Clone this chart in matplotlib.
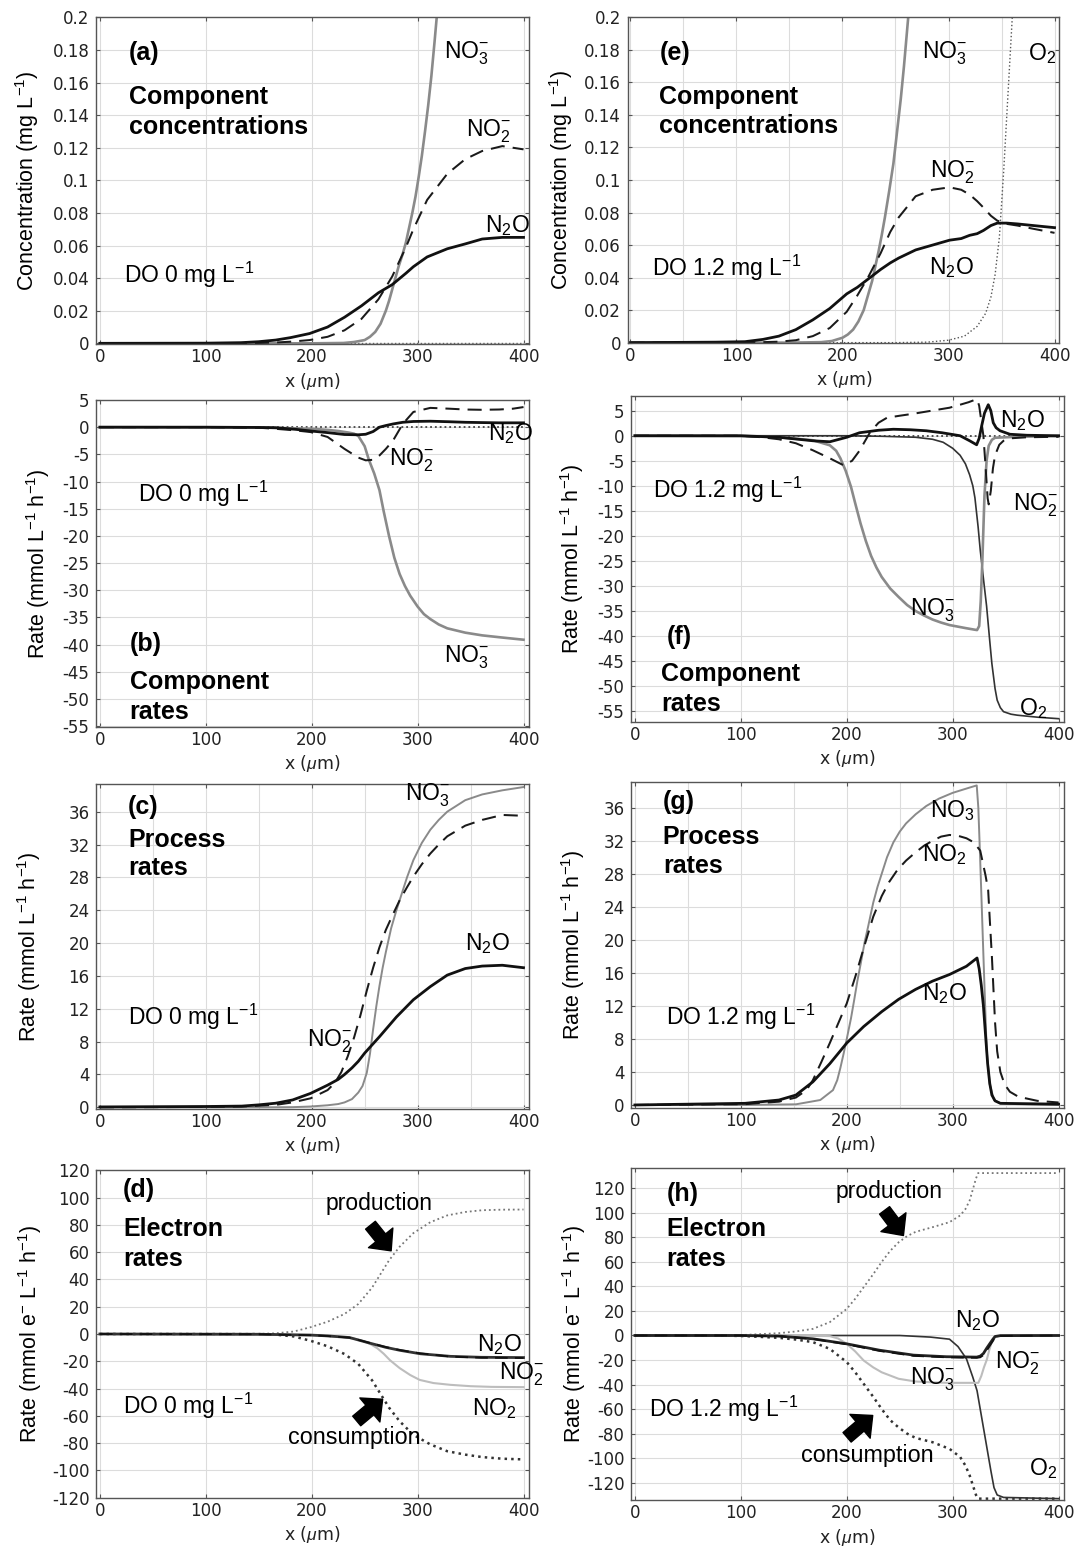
import matplotlib
matplotlib.use('Agg')
import matplotlib.pyplot as plt
from matplotlib.ticker import FuncFormatter

plt.rcParams['font.family'] = ['Liberation Sans', 'DejaVu Sans']
plt.rcParams['mathtext.fontset'] = 'custom'
plt.rcParams['mathtext.rm'] = 'Liberation Sans'
plt.rcParams['mathtext.it'] = 'Liberation Sans:italic'
plt.rcParams['mathtext.bf'] = 'Liberation Sans:bold'
plt.rcParams['axes.unicode_minus'] = False

# ---------------- data ----------------
x_ticks = [0, 100, 200, 300, 400]
x_minor = [50, 150, 250, 350]
conc_ticks = [0, 0.02, 0.04, 0.06, 0.08, 0.1, 0.12, 0.14, 0.16, 0.18, 0.2]
comp_rate_ticks = [-55, -50, -45, -40, -35, -30, -25, -20, -15, -10, -5, 0, 5]
proc_rate_ticks = [0, 4, 8, 12, 16, 20, 24, 28, 32, 36]
elec_rate_ticks = [-120, -100, -80, -60, -40, -20, 0, 20, 40, 60, 80, 100, 120]

# (a) concentrations, DO 0
a_x_no3 = [0, 200, 230, 240, 250, 255, 260, 265, 270, 273, 276, 279, 282, 286, 289, 292, 295, 298, 301, 304, 307, 310, 313, 316, 319, 322]
a_no3 = [0, 0, 0.0002, 0.0008, 0.002, 0.004, 0.007, 0.012, 0.02, 0.026, 0.033, 0.040, 0.047, 0.055, 0.062, 0.071, 0.080, 0.090, 0.102, 0.115, 0.130, 0.146, 0.164, 0.185, 0.207, 0.23]
a_x = [0, 100, 133, 150, 166, 180, 198, 215, 231, 247, 263, 276, 289, 296, 309, 328, 345, 361, 380, 400]
a_no2 = [0, 0, 0, 0.0002, 0.0005, 0.001, 0.002, 0.004, 0.008, 0.015, 0.027, 0.041, 0.059, 0.070, 0.088, 0.104, 0.113, 0.118, 0.121, 0.119]
a_n2o = [0, 0.0001, 0.0004, 0.001, 0.002, 0.0035, 0.006, 0.010, 0.016, 0.023, 0.031, 0.036, 0.043, 0.047, 0.053, 0.058, 0.061, 0.064, 0.065, 0.065]
a_x_o2 = [0, 400]
a_o2 = [0, 0]

# (e) concentrations, DO 1.2
e_x_no3 = [0, 150, 180, 190, 200, 205, 210, 215, 220, 224, 228, 231, 234, 237, 240, 244, 248, 251, 255, 258, 262, 266]
e_no3 = [0, 0, 0.0003, 0.001, 0.003, 0.005, 0.008, 0.013, 0.02, 0.029, 0.038, 0.047, 0.056, 0.066, 0.077, 0.093, 0.11, 0.127, 0.15, 0.17, 0.2, 0.235]
e_x = [0, 80, 108, 125, 140, 156, 172, 188, 204, 214, 224, 236, 245, 253, 269, 285, 301, 312, 320, 327, 333, 340, 346, 355, 365, 380, 400]
e_no2 = [0, 0, 0.0001, 0.0003, 0.0006, 0.0015, 0.004, 0.009, 0.019, 0.029, 0.040, 0.055, 0.068, 0.077, 0.090, 0.094, 0.0955, 0.094, 0.091, 0.087, 0.083, 0.078, 0.075, 0.073, 0.072, 0.070, 0.0675]
e_n2o = [0, 0.0003, 0.0006, 0.002, 0.004, 0.008, 0.014, 0.021, 0.030, 0.034, 0.039, 0.045, 0.049, 0.052, 0.057, 0.060, 0.063, 0.064, 0.066, 0.067, 0.069, 0.072, 0.0735, 0.0735, 0.073, 0.072, 0.0707]
e_x_o2 = [0, 250, 280, 300, 315, 327, 335, 340, 344, 348, 352, 355, 358, 361, 364]
e_o2 = [0, 0, 0.0003, 0.0015, 0.004, 0.010, 0.018, 0.028, 0.042, 0.065, 0.105, 0.14, 0.175, 0.21, 0.25]

# (b) component rates, DO 0
b_x = [0, 100, 150, 166, 185, 199, 215, 231, 244, 251, 258, 264, 270, 277, 286, 296, 312, 330, 345, 360, 377, 390, 400]
b_no2 = [0, 0, -0.1, -0.3, -0.6, -0.9, -1.8, -4.0, -5.6, -6.1, -6.0, -5.2, -4.0, -2.4, 0.6, 2.8, 3.55, 3.4, 3.25, 3.2, 3.25, 3.4, 3.7]
b_n2o = [0, 0, -0.05, -0.1, -0.4, -0.7, -1.0, -1.35, -1.4, -1.3, -0.8, 0, 0.3, 0.6, 0.9, 1.05, 1.1, 1.0, 0.9, 0.85, 0.8, 0.8, 0.8]
b_x_no3 = [0, 150, 200, 215, 225, 235, 240, 244, 250, 254, 259, 264, 268, 273, 278, 283, 288, 293, 300, 306, 312, 320, 328, 345, 361, 380, 400]
b_no3 = [0, -0.05, -0.3, -0.5, -0.7, -1.0, -1.2, -1.6, -3.5, -6.0, -8.5, -11.6, -15.5, -20.0, -24.0, -27.0, -29.2, -31.0, -33.0, -34.4, -35.3, -36.3, -37.0, -37.8, -38.3, -38.7, -39.1]
b_x_o2 = [0, 400]
b_o2 = [0, 0]

# (f) component rates, DO 1.2
f_x_no3 = [0, 100, 136, 168, 184, 190, 194, 199, 204, 208, 213, 218, 223, 228, 233, 241, 249, 257, 265, 273, 281, 289, 297, 312, 320, 323, 325, 326.5, 328, 330, 332, 334, 337, 340, 361, 400]
f_no3 = [0, -0.05, -0.3, -0.9, -1.9, -3.0, -4.5, -7.0, -10.2, -13.5, -17.5, -21.0, -24.0, -26.3, -28.2, -30.5, -32.2, -33.8, -35.0, -35.9, -36.7, -37.3, -37.8, -38.4, -38.7, -38.8, -38, -33, -25, -12, -5, -2, -0.8, -0.4, -0.2, -0.07]
f_x_no2 = [0, 100, 120, 136, 152, 168, 184, 197, 205, 212, 222, 230, 238, 250, 263, 280, 297, 307, 315, 320, 323, 325, 327, 329, 331, 333, 334, 336, 338, 340, 344, 348, 355, 370, 400]
f_no2 = [0, 0, -0.3, -0.7, -1.5, -2.9, -4.5, -5.9, -5.0, -3.0, 0.7, 2.6, 3.6, 4.0, 4.4, 5.0, 5.6, 6.2, 6.7, 7.1, 7.3, 6.0, 3.0, 0, -6, -12.5, -13.7, -11, -6.5, -3.9, -1.8, -1.0, -0.5, -0.3, -0.2]
f_x_n2o = [0, 100, 136, 168, 184, 200, 212, 230, 244, 260, 275, 290, 307, 316, 322.6, 325, 327.4, 330, 333.6, 336, 338.3, 341, 344.7, 354, 370, 400]
f_n2o = [0, 0, -0.3, -1.0, -1.2, -0.3, 0.6, 1.1, 1.3, 1.2, 1.0, 0.6, 0, -1.0, -1.8, -0.5, 2.0, 4.5, 6.2, 5.0, 2.6, 1.6, 1.0, 0.3, 0.1, 0]
f_x_o2 = [0, 200, 233, 265, 281, 291, 300, 307, 312, 316, 319, 321, 324, 326, 329, 332, 335, 337, 340, 342, 345, 348, 355, 361, 380, 400]
f_o2 = [0, 0, -0.1, -0.3, -0.7, -1.3, -2.5, -3.9, -5.6, -7.8, -10, -12.4, -18.2, -22.8, -28.5, -34, -41, -45.5, -50.5, -52.8, -54.3, -55.1, -55.6, -55.8, -56.2, -56.5]
f_x_zero = [0, 400]
f_zero = [0, 0]

# (c) process rates, DO 0
c_x_no3 = [0, 150, 182, 199, 215, 225, 231, 238, 244, 248, 252, 255, 258, 261, 264, 267, 270, 275, 280, 285, 290, 296, 304, 312, 320, 328, 345, 361, 380, 400]
c_no3 = [0, 0, 0.02, 0.1, 0.25, 0.4, 0.6, 1.0, 1.8, 2.6, 4.2, 6.5, 9.5, 12.3, 14.8, 17.0, 18.9, 21.8, 24.0, 26.0, 28.0, 30.1, 32.2, 33.8, 35.0, 36.0, 37.4, 38.1, 38.6, 39.0]
c_x_no2 = [0, 100, 134, 150, 166, 182, 199, 215, 222, 228, 234, 240, 246, 252, 258, 264, 270, 276, 283, 290, 296, 304, 312, 320, 328, 345, 361, 380, 400]
c_no2 = [0, 0.05, 0.1, 0.2, 0.3, 0.6, 1.1, 2.1, 3.0, 4.3, 6.2, 8.5, 11.2, 14.2, 17.0, 19.5, 21.6, 23.3, 25.2, 26.8, 28.1, 29.6, 30.9, 32.0, 33.0, 34.3, 35.0, 35.6, 35.5]
c_x_n2o = [0, 100, 134, 150, 166, 182, 199, 215, 225, 231, 238, 244, 250, 257, 264, 270, 280, 296, 312, 328, 345, 361, 380, 400]
c_n2o = [0.05, 0.1, 0.15, 0.3, 0.5, 0.9, 1.7, 2.7, 3.4, 4.0, 4.8, 5.6, 6.6, 7.6, 8.6, 9.5, 11.0, 13.1, 14.7, 16.1, 16.9, 17.2, 17.3, 17.0]

# (g) process rates, DO 1.2
g_x_no3 = [0, 100, 152, 175, 187, 191, 194, 197, 200, 204, 207, 210, 213, 217, 220, 225, 229, 233, 238, 244, 250, 256, 265, 275, 287, 300, 315, 322.7, 324.2, 325.8, 328.9, 332.1, 335, 339, 345, 361, 400]
g_no3 = [0, 0, 0.08, 0.6, 1.8, 3.0, 4.5, 6.2, 8.0, 10.5, 12.7, 15.0, 17.0, 19.8, 21.5, 24.5, 26.4, 28.0, 30.0, 31.8, 33.1, 34.1, 35.2, 36.2, 37.1, 37.8, 38.4, 38.7, 36, 30.3, 18.5, 6.6, 2.5, 0.6, 0.2, 0.1, 0]
g_x_no2 = [0, 104, 136, 152, 162, 168, 176, 184, 192, 200, 208, 216, 225, 233, 240, 248, 256, 265, 273, 281, 289, 297, 305, 313, 320, 326, 329, 331, 333.5, 335, 337, 338.5, 340, 342, 345, 349, 354, 362, 380, 400]
g_no2 = [0, 0.1, 0.4, 0.9, 1.8, 3.0, 5.2, 7.5, 9.9, 12.3, 15.5, 19.0, 22.8, 25.3, 27.0, 28.5, 29.6, 30.6, 31.4, 32.0, 32.5, 32.7, 32.6, 32.3, 31.8, 30.8, 29.0, 27.8, 26.0, 22.5, 18.0, 14.0, 10.0, 6.5, 4.0, 2.5, 1.6, 1.0, 0.5, 0.3]
g_x_n2o = [0, 104, 136, 152, 168, 184, 200, 216, 233, 249, 265, 281, 297, 313, 323, 325, 327, 329, 331, 333, 335, 337, 340, 345, 400]
g_n2o = [0, 0.2, 0.6, 1.2, 2.8, 5.0, 7.5, 9.5, 11.3, 12.8, 14.0, 15.0, 15.8, 16.8, 17.8, 16.5, 14.5, 12.0, 8.5, 5.0, 2.6, 1.2, 0.5, 0.2, 0.1]

# (d) electron rates, DO 0
d_x_pc = [0, 150, 166, 183, 199, 215, 231, 244, 257, 265, 273, 283, 296, 312, 328, 345, 361, 380, 400]
d_prod = [0, 0.1, 0.5, 1.8, 5, 9, 14.7, 22, 34, 44, 54, 64, 74, 82, 87, 89.5, 90.8, 91.2, 91.3]
d_cons = [0, -0.1, -0.5, -1.8, -5, -9, -14.7, -22, -34, -44, -54, -64, -74, -81, -86, -88.5, -90.3, -91.5, -92]
d_x_no3 = [0, 200, 231, 240, 248, 255, 262, 268, 274, 283, 293, 302, 315, 331, 350, 370, 400]
d_no3 = [0, -0.8, -2.4, -3.5, -5.0, -7.2, -10.5, -14.5, -19.3, -25, -30.1, -33.7, -36, -37.3, -38.3, -38.8, -39]
d_x_n = [0, 150, 199, 215, 235.7, 254.8, 270, 283.4, 302.5, 331, 360, 400]
d_n2o = [0, -0.2, -0.8, -1.4, -2.6, -6.7, -9.8, -12, -14.5, -16.4, -17.1, -17.3]
d_no2 = [0, -0.2, -0.9, -1.5, -2.7, -6.5, -9.6, -11.8, -14.2, -16.6, -17.4, -17.6]

# (h) electron rates, DO 1.2
h_x_pc = [0, 80, 104, 136, 152, 168, 184, 200, 208, 216, 225, 233, 241, 249, 257, 265, 281, 297, 307, 312, 316, 319, 322, 324, 330, 400]
h_prod = [0, 0, 0.5, 1.9, 3.3, 5.4, 10.9, 21.7, 30, 39.4, 50, 60, 69, 76, 81, 84.5, 88.3, 92.4, 97.8, 103, 110, 119, 128, 132.4, 132.4, 132.4]
h_cons = [0, 0, -0.5, -1.9, -3.3, -5.4, -10.9, -21.7, -30, -39.4, -50, -60, -69, -75, -80, -83.5, -87, -92.4, -99, -106, -114, -122, -130, -133, -133, -133]
h_x_no3 = [0, 150, 184, 192, 200, 208, 216, 225, 233, 249, 265, 281, 297, 315, 324.2, 327, 329.5, 332.1, 334.5, 336.8, 339.9, 345, 400]
h_no3 = [0, 0, -0.5, -2.5, -6.8, -13, -20.4, -26, -30, -35.3, -37.5, -38.2, -38.6, -38.6, -38.6, -33, -26, -20, -12, -5.3, -1.3, -0.2, 0]
h_x_n = [0, 100, 136, 168, 200, 231, 263, 294, 322.7, 326, 329, 332, 335, 338, 340, 345, 400]
h_n2o = [0, 0, -0.5, -2.7, -6.8, -12, -16, -17.3, -17.6, -16.8, -14.7, -10.5, -6.7, -3, -0.8, -0.1, 0]
h_no2 = [0, 0, -0.5, -2.8, -7.2, -12.6, -16.6, -17.8, -18.2, -17.8, -16, -12.5, -8.5, -4.5, -1.5, -0.3, 0]
h_x_o2 = [0, 250, 279, 297, 305, 313, 319, 323, 326, 329, 333, 336, 339, 342, 348, 400]
h_o2 = [0, 0, -1.3, -3, -9, -19, -34, -45, -60, -75, -95, -110, -124, -130, -132, -133]

# ---------------- figure ----------------
W, H = 1075, 1547
fig = plt.figure(figsize=(W / 100, H / 100), dpi=100)


def add_ax(l, r, t, b):
    return fig.add_axes([l / W, 1 - b / H, (r - l) / W, (b - t) / H])


fmt = FuncFormatter(lambda v, p: '%g' % round(v, 6))
ylab_conc = 'Concentration (mg L$^{-1}$)'
ylab_rate = 'Rate (mmol L$^{-1}$ h$^{-1}$)'
ylab_elec = 'Rate (mmol e$^{-}$ L$^{-1}$ h$^{-1}$)'


def style(ax, xlim, ylim, yticks, ylabel, ylx, minor50=False):
    ax.set_xlim(xlim)
    ax.set_ylim(ylim)
    ax.set_xticks(x_ticks)
    ax.set_yticks(yticks)
    ax.yaxis.set_major_formatter(fmt)
    ax.grid(True, color='#dcdcdc', lw=0.8)
    if minor50:
        ax.set_xticks(x_minor, minor=True)
        ax.grid(True, which='minor', axis='x', color='#dcdcdc', lw=0.8)
    ax.set_axisbelow(True)
    ax.tick_params(which='major', direction='in', top=True, right=True, length=3,
                   width=0.8, color='#555555', labelsize=12, labelcolor='#222222',
                   labelfontfamily='DejaVu Sans')
    ax.tick_params(axis='y', which='major', pad=5)
    ax.tick_params(axis='x', which='major', pad=3)
    ax.tick_params(which='minor', length=0)
    for s in ax.spines.values():
        s.set_color('#555555')
        s.set_linewidth(1.0)
    ax.set_ylabel(ylabel, fontsize=15.5)
    ax.yaxis.set_label_coords(ylx, 0.5)
    ax.set_xlabel('x ($\\mu$m)', fontsize=12.5, fontfamily='DejaVu Sans', color='#222222')
    ax.xaxis.set_label_coords(0.5, -0.08)


def txt(ax, x, y, s, size=16.5, bold=False):
    ax.text(x, y, s, fontsize=size, fontweight='bold' if bold else 'normal',
            ha='left', va='center', clip_on=False)


BOLD = 18
NO3 = 'NO$_3^{-}$'
NO2 = 'NO$_2^{-}$'
N2O = 'N$_2$O'
O2 = 'O$_2$'
gray = '#8a8a8a'
lgray = '#bdbdbd'
dash = (7, 4)
LW_N2O = 2.0
LW_NO3 = 1.9
LW_NO2 = 1.45

# ---- (a)
ax = add_ax(96.4, 528.7, 16.7, 344.3)
style(ax, (-3.3, 404.9), (-0.0006, 0.2004), conc_ticks, ylab_conc, -0.128)
ax.plot(a_x_o2, a_o2, ls=':', color='#666666', lw=1.0)
ax.plot(a_x_no3, a_no3, color=gray, lw=LW_NO3)
ax.plot(a_x, a_no2, color='#1a1a1a', lw=LW_NO2, dashes=dash)
ax.plot(a_x, a_n2o, color='#111111', lw=LW_N2O)
txt(ax, 27.6, 0.178, '(a)', size=BOLD, bold=True)
txt(ax, 27.6, 0.151, 'Component', size=BOLD, bold=True)
txt(ax, 27.6, 0.133, 'concentrations', size=BOLD, bold=True)
txt(ax, 22.8, 0.042, 'DO 0 mg L$^{-1}$')
txt(ax, 325, 0.178, NO3)
txt(ax, 346, 0.130, NO2)
txt(ax, 364, 0.072, N2O)

# ---- (e)
ax = add_ax(628, 1059.3, 16.7, 343.3)
style(ax, (-2.3, 404.5), (-0.0004, 0.2004), conc_ticks, ylab_conc, -0.122, minor50=True)
ax.plot(e_x_o2, e_o2, ls=':', color='#555555', lw=1.0)
ax.plot(e_x_no3, e_no3, color=gray, lw=LW_NO3)
ax.plot(e_x, e_no2, color='#1a1a1a', lw=LW_NO2, dashes=dash)
ax.plot(e_x, e_n2o, color='#111111', lw=LW_N2O)
txt(ax, 27.3, 0.178, '(e)', size=BOLD, bold=True)
txt(ax, 27.3, 0.151, 'Component', size=BOLD, bold=True)
txt(ax, 27.3, 0.133, 'concentrations', size=BOLD, bold=True)
txt(ax, 20, 0.046, 'DO 1.2 mg L$^{-1}$')
txt(ax, 275, 0.178, NO3)
txt(ax, 375, 0.178, O2)
txt(ax, 283, 0.105, NO2)
txt(ax, 281.5, 0.046, N2O)

# ---- (b)
ax = add_ax(96.4, 528.7, 400, 726.7)
style(ax, (-3.3, 404.9), (-55.1, 5.0), comp_rate_ticks, ylab_rate, -0.103)
ax.plot(b_x_o2, b_o2, ls=':', color='#444444', lw=1.3)
ax.plot(b_x_no3, b_no3, color=gray, lw=LW_NO3)
ax.plot(b_x, b_no2, color='#1a1a1a', lw=LW_NO2, dashes=dash)
ax.plot(b_x, b_n2o, color='#111111', lw=LW_N2O)
txt(ax, 28, -39.8, '(b)', size=BOLD, bold=True)
txt(ax, 28, -46.8, 'Component', size=BOLD, bold=True)
txt(ax, 28, -52.4, 'rates', size=BOLD, bold=True)
txt(ax, 36, -12.2, 'DO 0 mg L$^{-1}$')
txt(ax, 273, -6.1, NO2)
txt(ax, 366, -1.2, N2O)
txt(ax, 325, -42.3, NO3)

# ---- (f)
ax = add_ax(631.4, 1063.7, 396, 721.7)
style(ax, (-3.3, 404.8), (-57.1, 7.94), comp_rate_ticks, ylab_rate, -0.106)
ax.plot(f_x_zero, f_zero, ls=':', color='#444444', lw=1.3)
ax.plot(f_x_o2, f_o2, color='#333333', lw=1.2)
ax.plot(f_x_no3, f_no3, color=gray, lw=LW_NO3)
ax.plot(f_x_no2, f_no2, color='#1a1a1a', lw=LW_NO2, dashes=dash)
ax.plot(f_x_n2o, f_n2o, color='#111111', lw=LW_N2O)
txt(ax, 29.6, -40.1, '(f)', size=BOLD, bold=True)
txt(ax, 24.8, -47.5, 'Component', size=BOLD, bold=True)
txt(ax, 24.8, -53.5, 'rates', size=BOLD, bold=True)
txt(ax, 16.7, -10.9, 'DO 1.2 mg L$^{-1}$')
txt(ax, 345, 3.1, N2O)
txt(ax, 356.5, -13.8, NO2)
txt(ax, 260, -34.8, NO3)
txt(ax, 363, -54.5, O2)

# ---- (c)
ax = add_ax(96.4, 528.7, 784, 1109.3)
style(ax, (-3.3, 404.9), (-0.24, 39.37), proc_rate_ticks, ylab_rate, -0.124, minor50=True)
ax.plot(c_x_no3, c_no3, color=gray, lw=1.4)
ax.plot(c_x_no2, c_no2, color='#1a1a1a', lw=LW_NO2, dashes=dash)
ax.plot(c_x_n2o, c_n2o, color='#111111', lw=LW_N2O)
txt(ax, 26.6, 36.6, '(c)', size=BOLD, bold=True)
txt(ax, 26.6, 32.5, 'Process', size=BOLD, bold=True)
txt(ax, 26.6, 29.1, 'rates', size=BOLD, bold=True)
txt(ax, 26.6, 11, 'DO 0 mg L$^{-1}$')
txt(ax, 288, 38, NO3)
txt(ax, 345, 20, N2O)
txt(ax, 196, 8, NO2)

# ---- (g)
ax = add_ax(631.4, 1063.7, 781.7, 1107.7)
style(ax, (-3.3, 404.8), (-0.33, 39.15), proc_rate_ticks, ylab_rate, -0.102, minor50=True)
ax.plot(g_x_no3, g_no3, color=gray, lw=1.4)
ax.plot(g_x_no2, g_no2, color='#1a1a1a', lw=LW_NO2, dashes=dash)
ax.plot(g_x_n2o, g_n2o, color='#111111', lw=LW_N2O)
txt(ax, 26.4, 36.7, '(g)', size=BOLD, bold=True)
txt(ax, 26.4, 32.5, 'Process', size=BOLD, bold=True)
txt(ax, 26.4, 28.9, 'rates', size=BOLD, bold=True)
txt(ax, 29.6, 10.7, 'DO 1.2 mg L$^{-1}$')
txt(ax, 279, 35.7, 'NO$_3$')
txt(ax, 271, 30.3, 'NO$_2$')
txt(ax, 271, 13.5, N2O)

# ---- (d)
arrow = dict(arrowstyle='simple,head_length=0.8,head_width=1.5,tail_width=0.6',
             mutation_scale=15, fc='k', ec='k', shrinkA=0, shrinkB=0)
ax = add_ax(96.4, 528.7, 1170, 1497.7)
style(ax, (-3.3, 404.9), (-120.1, 120.3), elec_rate_ticks, ylab_elec, -0.122)
ax.plot(d_x_pc, d_prod, ls=':', color='#777777', lw=1.3)
ax.plot(d_x_pc, d_cons, ls=':', color='#333333', lw=1.8)
ax.plot(d_x_no3, d_no3, color=lgray, lw=1.5)
ax.plot(d_x_n, d_n2o, color='#333333', lw=LW_N2O)
ax.plot(d_x_n, d_no2, color='#111111', lw=1.3, dashes=dash)
ax.annotate('', xy=(275, 61), xytext=(255.5, 79.8), arrowprops=arrow)
ax.annotate('', xy=(267, -47.9), xytext=(242.5, -63.8), arrowprops=arrow)
txt(ax, 21.8, 105.5, '(d)', size=BOLD, bold=True)
txt(ax, 21.8, 77.3, 'Electron', size=BOLD, bold=True)
txt(ax, 21.8, 55.2, 'rates', size=BOLD, bold=True)
txt(ax, 21.8, -52.8, 'DO 0 mg L$^{-1}$')
txt(ax, 213, 95.7, 'production', size=16.5)
txt(ax, 177.6, -76, 'consumption', size=16.8)
txt(ax, 356, -7.4, N2O)
txt(ax, 377, -29.4, NO2)
txt(ax, 351, -55, 'NO$_2$')

# ---- (h)
ax = add_ax(631.4, 1063.7, 1168.3, 1500)
style(ax, (-3.3, 404.8), (-134.1, 136.3), elec_rate_ticks, ylab_elec, -0.1)
ax.plot(h_x_pc, h_prod, ls=':', color='#777777', lw=1.3)
ax.plot(h_x_pc, h_cons, ls=':', color='#333333', lw=1.8)
ax.plot(h_x_o2, h_o2, color='#333333', lw=1.2)
ax.plot(h_x_no3, h_no3, color=lgray, lw=1.5)
ax.plot(h_x_n, h_n2o, color='#222222', lw=LW_N2O)
ax.plot(h_x_n, h_no2, color='#111111', lw=1.3, dashes=dash)
ax.annotate('', xy=(253.5, 81.5), xytext=(235.7, 102), arrowprops=arrow)
ax.annotate('', xy=(224.5, -65.2), xytext=(200.3, -83), arrowprops=arrow)
txt(ax, 29.6, 115.5, '(h)', size=BOLD, bold=True)
txt(ax, 29.6, 87, 'Electron', size=BOLD, bold=True)
txt(ax, 29.6, 62.5, 'rates', size=BOLD, bold=True)
txt(ax, 13.5, -59.8, 'DO 1.2 mg L$^{-1}$')
txt(ax, 189, 117, 'production', size=16.5)
txt(ax, 157, -97.8, 'consumption', size=16.8)
txt(ax, 302, 12.2, N2O)
txt(ax, 260, -35.3, NO3)
txt(ax, 340, -23, NO2)
txt(ax, 371.6, -108.7, O2)

fig.savefig('out.png', dpi=100)
